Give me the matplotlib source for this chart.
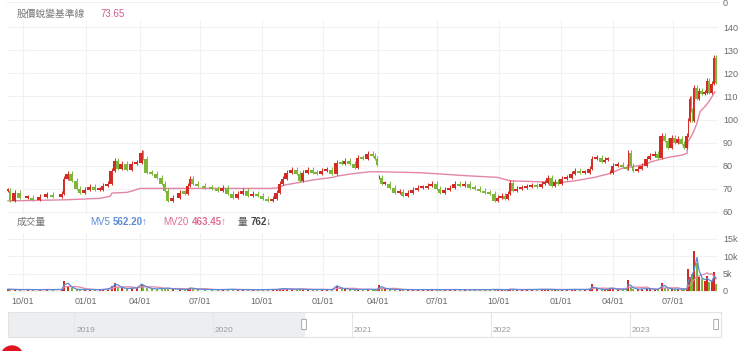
import numpy as np
import matplotlib
matplotlib.use("Agg")
import matplotlib.pyplot as plt
from matplotlib.patches import Ellipse, FancyBboxPatch

plt.rcParams["font.family"] = ["Liberation Sans", "Noto Sans CJK TC", "DejaVu Sans"]

# --- data (x = trading-day number since chart start) ---
day = [0, 2, 7, 12, 20, 25, 32, 39, 45, 54,
       56, 60, 64, 69, 72, 77, 82, 87, 92, 95,
       100, 104, 107, 110, 114, 119, 124, 129, 134, 135,
       139, 144, 149, 154, 157, 160, 165, 172, 177, 180,
       182, 185, 190, 197, 204, 210, 215, 220, 225, 230,
       235, 240, 245, 250, 255, 260, 265, 269, 272, 275,
       279, 284, 289, 292, 295, 300, 305, 309, 314, 319,
       324, 329, 334, 337, 342, 347, 350, 355, 360, 365,
       367, 369, 370, 371, 374, 377, 382, 387, 392, 395,
       400, 405, 410, 415, 420, 424, 429, 432, 437, 442,
       447, 452, 457, 462, 467, 472, 477, 482, 487, 490,
       494, 497, 500, 502, 505, 509, 514, 519, 524, 529,
       534, 537, 540, 544, 547, 550, 554, 559, 564, 567,
       572, 577, 582, 584, 589, 594, 597, 600, 601, 602,
       605, 610, 615, 619, 620, 623, 625, 630, 634, 639,
       642, 647, 650, 654, 657, 660, 664, 667, 670, 674,
       676, 679, 680, 682, 683, 684, 686, 689, 691, 694,
       697, 699, 701, 704, 706, 708]

nan = np.nan
close = [69.5, 65.2, 68.6, 66.5, 66.5, 65.6, 67.0, 67.8, 66.8, 68.2,
         74.7, 76.9, 73.8, 70.4, 68.6, 69.9, 71.2, 69.9, 69.9, 71.7,
         72.5, 78.2, 82.5, 79.0, 81.2, 78.6, 81.2, 81.6, 86.0, 83.4,
         77.3, 76.9, 75.1, 72.5, 69.5, 65.2, 66.5, 68.6, 68.4, 71.7,
         74.7, 72.5, 71.7, 70.8, 70.4, 69.5, 70.8, 68.2, 66.5, 68.2,
         69.5, 67.4, 68.2, 67.4, 66.0, 65.2, 66.0, 68.6, 72.5, 74.7,
         77.3, 78.6, 76.9, 73.8, 77.3, 78.6, 77.3, 76.9, 78.2, 78.6,
         77.0, 81.6, 81.2, 82.5, 81.2, 79.5, 83.8, 83.4, 85.5, 84.6,
         83.5, 80.8, nan, 75.1, 72.5, 72.5, 70.8, 68.6, 69.1, 67.4,
         68.6, 69.9, 70.8, 70.8, 71.7, 72.5, 70.4, 68.6, 69.9, 70.8,
         72.5, 71.7, 72.5, 70.8, 70.4, 69.5, 68.6, 68.2, 65.2, 66.5,
         67.4, 66.0, 68.2, 73.0, 69.5, 70.4, 70.8, 71.2, 71.7, 71.2,
         72.5, 73.0, 75.1, 71.7, 73.2, 72.5, 74.7, 75.1, 76.9, 78.2,
         77.3, 77.3, 79.0, 83.4, 83.8, 82.0, 82.9, 82.9, nan, 77.3,
         80.3, 80.8, 79.9, 79.0, 86.0, 80.3, 78.2, 79.0, 80.3, 83.4,
         84.6, 85.5, 83.8, 93.3, 91.1, 88.1, 92.4, 90.3, 92.0, 89.8,
         88.1, 93.3, 99.8, 109.3, 104.1, 99.8, 114.0, 109.3, 112.8, 111.5,
         111.9, 117.1, 111.9, 115.8, 127.0, 116.2]

volume = [500, 450, 400, 380, 420, 400, 380, 420, 400, 450,
          3000, 1500, 800, 500, 420, 400, 450, 400, 380, 500,
          600, 1500, 2300, 1200, 900, 700, 800, 900, 2000, 1500,
          900, 700, 600, 700, 800, 900, 600, 500, 450, 700,
          1000, 600, 500, 450, 400, 380, 400, 450, 500, 420,
          400, 380, 360, 380, 400, 450, 420, 500, 650, 700,
          600, 550, 500, 600, 500, 450, 420, 400, 450, 420,
          400, 1500, 800, 600, 500, 450, 500, 450, 500, 450,
          420, 500, nan, 1600, 900, 700, 500, 450, 420, 400,
          380, 380, 400, 420, 400, 450, 400, 380, 380, 400,
          420, 400, 380, 350, 350, 360, 380, 400, 450, 420,
          400, 380, 400, 600, 450, 400, 380, 400, 420, 450,
          500, 450, 500, 420, 400, 380, 400, 420, 450, 480,
          450, 420, 500, 1900, 800, 500, 450, 420, nan, 1000,
          700, 550, 500, 600, 3100, 1200, 700, 550, 600, 700,
          600, 500, 450, 2200, 1000, 700, 600, 550, 600, 500,
          500, 800, 6400, 4000, 3000, 5000, 11400, 8000, 4000, 3500,
          3000, 4200, 2500, 3000, 5500, 2000]

base_day = [0, 25, 59, 92, 102, 104, 119, 125, 132, 182, 262, 269, 277, 289,
            304, 325, 330, 347, 362, 372, 412, 462, 489, 502, 529, 552, 567,
            587, 602, 614, 624, 634, 647, 660, 674, 679, 680, 684, 687, 689,
            692, 697, 701, 705, 707]
base_val = [64.8, 65.0, 65.3, 65.9, 66.8, 68.2, 68.5, 69.2, 70.2, 70.2, 70.2,
            70.4, 71.7, 72.6, 73.8, 75.0, 75.6, 76.7, 77.4, 77.4, 77.0, 75.6,
            75.0, 73.5, 73.1, 72.7, 73.5, 75.0, 76.7, 78.9, 79.6, 80.3, 82.2,
            83.6, 84.6, 85.4, 90.4, 93.3, 96.2, 98.4, 103.4, 105.6, 107.8,
            110.6, 112.0]

tick_day = [15, 78, 132, 192, 254, 315, 370, 429, 491, 553, 605, 665]
tick_lab = ["10/01", "01/01", "04/01", "07/01", "10/01", "01/01",
            "04/01", "07/01", "10/01", "01/01", "04/01", "07/01"]
price_ticks = [60, 70, 80, 90, 100, 110, 120, 130, 140]
vol_ticks = [0, 5000, 10000, 15000]
vol_lab = ["0", "5k", "10k", "15k"]
years = [2019, 2020, 2021, 2022, 2023]

RED = "#d22b24"
GREEN = "#7cb537"
PINK = "#e386a6"
BLUE = "#5b8ad6"
GRID = "#f1f1f1"
TXT = "#6a6a6a"

W, H = 740, 351
d = np.array(day, dtype=float)
c = np.array(close, dtype=float)
v = np.array(volume, dtype=float)
o = np.r_[c[0], c[:-1]]
o = np.where(np.isnan(o), c, o)
up = c >= o
ok = ~np.isnan(c)
# each candle fills the space up to the previous session
gap = np.r_[2.0, np.diff(d)]
wid = np.clip(gap, 1.0, 4.0)
ctr = d - wid / 2 + 0.5

fig = plt.figure(figsize=(W / 100, H / 100), dpi=100)


def px_axes(x0, y0, x1, y1):
    return fig.add_axes([x0 / W, 1 - y1 / H, (x1 - x0) / W, (y1 - y0) / H])


def style(ax):
    for s in ax.spines.values():
        s.set_visible(False)
    ax.yaxis.tick_right()
    ax.tick_params(length=0, labelsize=6.5, labelcolor=TXT, pad=3.5)
    ax.set_xticks(tick_day)
    ax.grid(True, color=GRID, lw=0.8)
    ax.set_axisbelow(True)


# --- price panel ---
ax = px_axes(7, 20, 718, 214)
style(ax)
ax.set_xlim(-1, 710)
ax.set_ylim(59.135, 143.03)
ax.set_yticks(price_ticks)
ax.set_xticklabels([])
lo = np.minimum(o, c)
hi = np.maximum(o, c)
body = np.maximum(hi - lo, 1.0)
cols = np.where(up, RED, GREEN)
ax.bar(ctr[ok], body[ok], bottom=(lo - 0.4)[ok], width=wid[ok] * 0.9,
       color=cols[ok], linewidth=0, zorder=3)
ax.vlines(d[ok], (lo - 0.9)[ok], (hi + 0.9)[ok], colors=cols[ok], lw=0.7, zorder=3)
ax.plot(base_day, base_val, color=PINK, lw=1.0, zorder=2)

# --- volume panel ---
mv5 = np.array([np.nanmean(v[(d > x - 5) & (d <= x)]) for x in d])
mv20 = np.array([np.nanmean(v[(d > x - 20) & (d <= x)]) for x in d])
axv = px_axes(7, 233, 718, 293)
style(axv)
axv.set_xlim(-1, 710)
axv.set_ylim(-577, 16730)
axv.set_yticks(vol_ticks)
axv.set_yticklabels(vol_lab)
axv.set_xticklabels(tick_lab)
axv.tick_params(axis="x", pad=3)
okv = ~np.isnan(v)
axv.bar(d[okv], v[okv], width=1.4, color=cols[okv], linewidth=0, zorder=3)
axv.plot(d[okv], mv20[okv], color=PINK, lw=0.9, zorder=4)
axv.plot(d[okv], mv5[okv], color=BLUE, lw=0.9, zorder=5)

# --- header texts ---
fig.add_artist(plt.Line2D([7 / W, 718 / W], [1 - 2 / H, 1 - 2 / H], color="#eeeeee", lw=0.8))
fig.text(723 / W, 1 - 3 / H, "0", fontsize=6.5, color=TXT, va="center")
fig.text(17 / W, 1 - 14 / H, "股價蛻變基準線", fontsize=7, color="#777777", va="center")
fig.text(100 / W, 1 - 14 / H, "73.65", fontsize=7, color="#cf5f8e", va="center")

fig.text(17 / W, 1 - 222 / H, "成交量", fontsize=7, color="#777777", va="center")
fig.text(90 / W, 1 - 222 / H, "MV5", fontsize=7, color=BLUE, va="center")
fig.text(113 / W, 1 - 222 / H, "562.20↑", fontsize=7, color=BLUE, va="center", weight="bold")
fig.text(163 / W, 1 - 222 / H, "MV20", fontsize=7, color="#dd6f93", va="center")
fig.text(192 / W, 1 - 222 / H, "463.45↑", fontsize=7, color="#dd6f93", va="center", weight="bold")
fig.text(238 / W, 1 - 222 / H, "量", fontsize=7, color="#555555", va="center")
fig.text(251 / W, 1 - 222 / H, "762↓", fontsize=7, color="#444444", va="center", weight="bold")

# --- range slider ---
axs = px_axes(8, 312, 721, 337)
axs.set_xlim(2018.525, 2023.655)
axs.set_ylim(0, 1)
axs.set_xticks([])
axs.set_yticks([])
for s in axs.spines.values():
    s.set_color("#e2e2e2")
    s.set_linewidth(0.8)
axs.axvspan(2018.525, 2020.655, color="#eceef0", zorder=0)
for yr in years:
    axs.axvline(yr, color="#e6e6e6", lw=0.8, zorder=1)
    axs.text(yr + 0.015, 0.28, str(yr), fontsize=6, color="#9a9a9a", va="center")
for hx in [2020.655, 2023.62]:
    axs.add_patch(FancyBboxPatch((hx - 0.012, 0.3), 0.024, 0.4,
                                 boxstyle="round,pad=0.005", fc="white",
                                 ec="#aaaaaa", lw=0.7, zorder=3, clip_on=False))

fig.add_artist(Ellipse((12 / W, 1 - 357 / H), 22 / W, 22 / H, color="#e0141e"))

fig.savefig("out.png", dpi=100)
